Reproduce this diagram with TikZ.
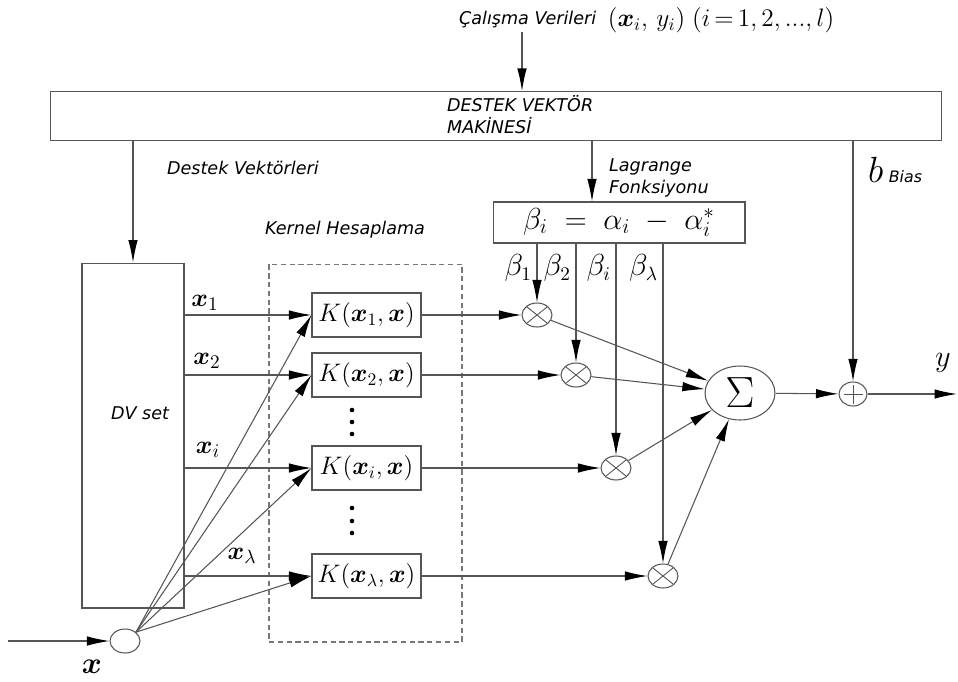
\documentclass[tikz,border=0pt]{standalone}
\usepackage{fontspec}
\usepackage{amsmath}
\usetikzlibrary{arrows.meta,positioning,shapes.geometric}
\newfontfamily\comicfont{DejaVu Sans}
\definecolor{svmLine}{HTML}{555555}
\tikzset{
  svmnote/.style={font=\comicfont\itshape\fontsize{10}{12.5}\selectfont, inner sep=1pt, align=left},
  block/.style={draw=svmLine, line width=0.6pt, inner sep=0pt},
  kbox/.style={block, minimum width=2.18cm, minimum height=0.88cm, font=\fontsize{14}{16}\selectfont},
  kzone/.style={draw=svmLine!80, line width=0.6pt, dash pattern=on 3pt off 2pt, inner sep=0pt},
  multnode/.style={ellipse, draw=svmLine, line width=0.6pt, minimum width=0.6cm, minimum height=0.48cm, inner sep=0pt,
    path picture={\draw[svmLine, line width=0.5pt]
      (path picture bounding box.north west) -- (path picture bounding box.south east)
      (path picture bounding box.north east) -- (path picture bounding box.south west);}},
  plusnode/.style={ellipse, draw=svmLine, line width=0.6pt, minimum width=0.56cm, minimum height=0.48cm, inner sep=0pt,
    path picture={\draw[svmLine, line width=0.5pt]
      (path picture bounding box.center) ++(-0.19cm,0) -- ++(0.38cm,0)
      (path picture bounding box.center) ++(0,-0.19cm) -- ++(0,0.38cm);}},
  sumnode/.style={ellipse, draw=svmLine, line width=0.6pt, minimum width=1.4cm, minimum height=1.08cm, inner sep=0pt,
    font=\fontsize{27}{29}\selectfont},
  innode/.style={ellipse, draw=svmLine, line width=0.6pt, minimum width=0.6cm, minimum height=0.48cm, inner sep=0pt},
  xlabel/.style={font=\fontsize{15}{17}\selectfont, inner sep=1pt},
  betalabel/.style={font=\fontsize{16}{18}\selectfont, inner sep=1pt, anchor=east},
  conn/.style={draw=svmLine, line width=0.6pt, -{Latex[length=4.5mm, width=1.9mm, color=black]}},
  kdot/.style={fill=black}
}
\begin{document}
\begin{tikzpicture}[x=0.02cm, y=-0.02cm]
  \useasboundingbox (0,0) rectangle (958,681);

  % top: training data and SVM block
  \node[svmnote, anchor=west] (datalabel) at (457,20) {Çalışma Verileri};
  \node[font=\fontsize{14}{16}\selectfont, inner sep=1pt, right=0.15cm of datalabel] (datamath)
    {$(\boldsymbol{x}_i,\, y_i)\;(i\,{=}\,1,2,...,l)$};
  \node[block, minimum width=17.84cm, minimum height=0.98cm] (svm) at (496,116) {};
  \node[svmnote, anchor=west] (svmtext) at (445,115) {DESTEK VEKTÖR\\MAKİNESİ};
  \coordinate (datain) at (522,32);
  \draw[conn] (datain) -- (datain |- svm.north);

  % support vector set
  \node[svmnote, anchor=west] (dvlabel) at (165,168) {Destek Vektörleri};
  \node[block, minimum width=2.04cm, minimum height=6.9cm] (dvset) at (133,435.5) {};
  \node[svmnote] (dvtext) at (140,413) {DV set};
  \draw[conn] (svm.south -| dvset.north) -- (dvset.north);

  % lagrange multipliers
  \node[svmnote, anchor=west] (laglabel) at (607,178) {Lagrange\\Fonksiyonu};
  \node[block, minimum width=5.04cm, minimum height=0.82cm, font=\fontsize{18}{20}\selectfont] (beta) at (619,222.5)
    {$\beta_i \;=\; \alpha_i \;-\; \alpha_i^{*}$};
  \coordinate (lagx) at (592,150);
  \draw[conn] (svm.south -| lagx) -- (beta.north -| lagx);

  % kernel block
  \node[svmnote] (kernlabel) at (345,230) {Kernel Hesaplama};
  \node[kzone, minimum width=3.86cm, minimum height=7.56cm] (kzone) at (365.5,453) {};

  % input
  \node[innode] (inp) at (125,641) {};
  \coordinate (xin) at (8,641);
  \draw[conn] (xin) -- (inp);
  \node[xlabel, font=\fontsize{16}{18}\selectfont] (xlab) at (92,667) {$\boldsymbol{x}$};

  % sum and bias
  \node[sumnode] (sigma) at (740,393) {$\Sigma$};
  \node[plusnode] (plus) at (853,394) {};
  \node[svmnote, anchor=west] (biaslabel) at (866,170)
    {{\normalfont\fontsize{21}{21}\selectfont$b$}\ \fontsize{9}{10}\selectfont Bias};
  \coordinate (yout) at (957,394);
  \node[xlabel, font=\fontsize{16}{18}\selectfont] (ylab) at (943,363) {$y$};
  \draw[conn] (svm.south -| plus) -- (plus.north);
  \draw[conn] (sigma) -- (plus);
  \draw[conn] (plus) -- (yout);

  % kernel rows
  \foreach \n/\yy/\s/\mx in {1/315/1/537, 2/375/2/576, i/468/i/616, l/576/\lambda/663} {
    \node[kbox] (k\n) at (366.5,\yy) {$K(\boldsymbol{x}_{\s},\boldsymbol{x})$};
    \node[multnode] (m\n) at (\mx,\yy) {};
    \node[betalabel] (b\n) at (\mx-3,268) {$\beta_{\s}$};
    \draw[conn] (dvset.east |- k\n.west) -- (k\n.west);
    \draw[conn] (inp.north east) -- (k\n.west);
    \draw[conn] (k\n.east) -- (m\n.west);
    \draw[conn] (beta.south -| m\n.north) -- (m\n.north);
    \draw[conn] (m\n) -- (sigma);
  }
  \node[xlabel] (lx1) at (205,303) {$\boldsymbol{x}_1$};
  \node[xlabel] (lx2) at (207,361) {$\boldsymbol{x}_2$};
  \node[xlabel] (lxi) at (208,450) {$\boldsymbol{x}_i$};
  \node[xlabel] (lxl) at (242,556) {$\boldsymbol{x}_\lambda$};

  % vertical dots
  \foreach \dy in {410,422,434,508,521,533}
    \fill[kdot] (352,\dy) circle (1.3pt);
\end{tikzpicture}
\end{document}
